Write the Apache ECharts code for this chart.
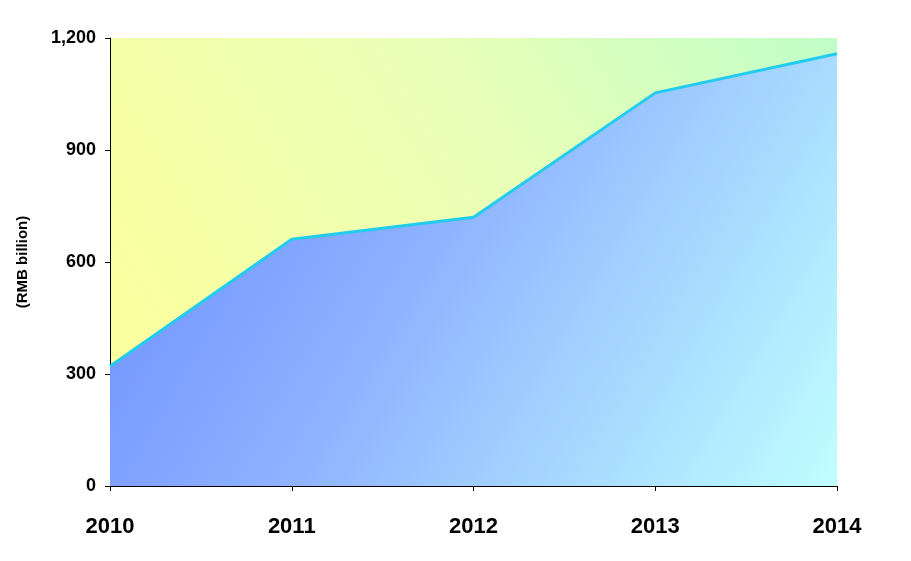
<!DOCTYPE html>
<html><head><meta charset="utf-8">
<script src="https://cdn.jsdelivr.net/npm/echarts@6/dist/echarts.min.js"></script>
<style>html,body{margin:0;padding:0;background:#fff}#c{width:911px;height:561px}</style>
</head><body><div id="c"></div>
<script>
const categories = ['2010','2011','2012','2013','2014'];
const values = [321, 661, 720, 1053, 1158];
const yTicks = [0, 300, 600, 900, 1200];
const G = echarts.graphic;
const chart = echarts.init(document.getElementById('c'));
chart.setOption({
  animation: false,
  grid: {left: 110, right: 74, top: 38, bottom: 75, show: true, borderWidth: 0,
    backgroundColor: new G.LinearGradient(0, 1, 1, 0, [{offset: 0, color: '#ffff99'}, {offset: 0.6, color: '#e8ffb8'}, {offset: 1, color: '#c0ffc8'}])},
  xAxis: {type: 'category', data: categories, boundaryGap: false,
    axisLine: {lineStyle: {color: '#000', width: 1}}, axisTick: {show: true, length: 5, lineStyle: {color: '#000'}},
    axisLabel: {fontSize: 22, fontWeight: 'bold', color: '#000', margin: 30, fontFamily: 'Liberation Sans'}},
  yAxis: {type: 'value', min: 0, max: 1200, interval: 300,
    name: '(RMB billion)', nameLocation: 'middle', nameGap: 80, nameRotate: 90,
    nameTextStyle: {fontSize: 15, fontWeight: 'bold', color: '#000', fontFamily: 'Liberation Sans'},
    axisLine: {show: true, lineStyle: {color: '#000', width: 1}}, axisTick: {show: true, length: 5, lineStyle: {color: '#000'}},
    splitLine: {show: false},
    axisLabel: {fontSize: 18, fontWeight: 'bold', color: '#000', margin: 14, fontFamily: 'Liberation Sans',
      formatter: v => yTicks.includes(v) ? v.toLocaleString('en-US') : ''}},
  series: [{type: 'line', data: values, symbol: 'circle', symbolSize: 1, showSymbol: true,
    itemStyle: {opacity: 0},
    lineStyle: {color: '#22ccee', width: 3},
    areaStyle: {opacity: 1, color: new G.LinearGradient(0, 0, 1, 1, [{offset: 0, color: '#6688ff'}, {offset: 0.45, color: '#8fb4ff'}, {offset: 1, color: '#c0ffff'}])},
    label: {show: true, position: 'top', fontSize: 16, fontWeight: 'bold', color: '#000', fontFamily: 'Liberation Sans', distance: 6,
      formatter: p => p.value.toLocaleString('en-US')}}]
});
</script></body></html>
